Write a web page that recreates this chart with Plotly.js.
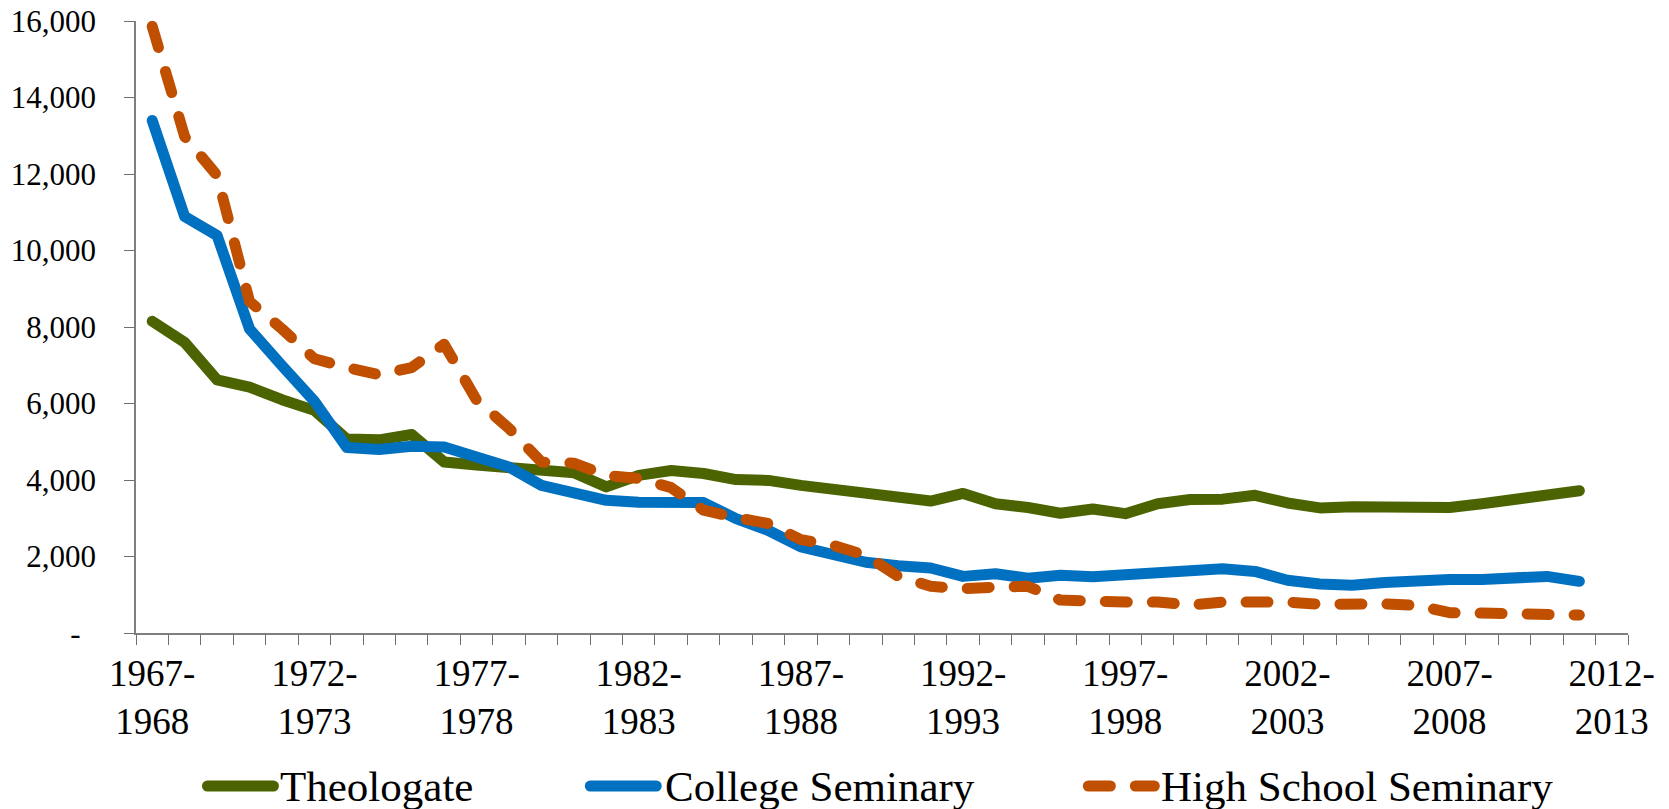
<!DOCTYPE html>
<html>
<head>
<meta charset="utf-8">
<script src="https://cdn.plot.ly/plotly-3.0.1.min.js"></script>
<style>
  html, body { margin: 0; padding: 0; background: #fff; }
  #chart { width: 1669px; height: 809px; }
  #chart svg text { font-family: 'Liberation Serif', serif !important; }
  .scatterlayer .js-line, .shapelayer path { stroke-linecap: round; stroke-linejoin: round; }
</style>
</head>
<body>
<div id="chart"></div>
<script>
const categories = [
  '1967-1968','1968-1969','1969-1970','1970-1971','1971-1972',
  '1972-1973','1973-1974','1974-1975','1975-1976','1976-1977',
  '1977-1978','1978-1979','1979-1980','1980-1981','1981-1982',
  '1982-1983','1983-1984','1984-1985','1985-1986','1986-1987',
  '1987-1988','1988-1989','1989-1990','1990-1991','1991-1992',
  '1992-1993','1993-1994','1994-1995','1995-1996','1996-1997',
  '1997-1998','1998-1999','1999-2000','2000-2001','2001-2002',
  '2002-2003','2003-2004','2004-2005','2005-2006','2006-2007',
  '2007-2008','2008-2009','2009-2010','2010-2011','2011-2012',
  '2012-2013'
];

const theologate = [
  8150, 7600, 6620, 6430, 6100, 5820, 5070, 5050, 5190, 4470,
  4390, 4300, 4210, 4190, 3820, 4120, 4250, 4170, 4010, 3990,
  3860, 3750, 3640, 3570, 3450, 3650, 3380, 3280, 3130, 3240,
  3120, 3380, 3490, 3500, 3600, 3400, 3270, 3300, 3310, 3270,
  3280, 3380, 3510, 3620, 3720, null
];

const collegeSeminary = [
  13400, 10890, 10390, 7950, 6990, 6060, 4850, 4800, 4880, 4860,
  4600, 4340, 3860, 3690, 3470, 3420, 3410, 3410, 2990, 2680,
  2250, 2030, 1850, 1760, 1700, 1480, 1550, 1430, 1510, 1470,
  1510, 1570, 1640, 1680, 1610, 1380, 1280, 1250, 1320, 1380,
  1400, 1400, 1450, 1480, 1350, null
];

const highSchoolSeminary = [
  15860, 12980, 11960, 8670, 7950, 7170, 6940, 6750, 6940, 7550,
  6090, 5350, 4470, 4440, 4120, 4040, 3800, 3210, 3020, 2860,
  2440, 2290, 2030, 1480, 1220, 1160, 1200, 1220, 860, 810,
  810, 810, 730, 810, 830, 810, 750, 770, 760, 720,
  530, 520, 510, 520, 470, null
];

const xTickLabels = [
  '1967-<br>1968', '1972-<br>1973', '1977-<br>1978', '1982-<br>1983', '1987-<br>1988',
  '1992-<br>1993', '1997-<br>1998', '2002-<br>2003', '2007-<br>2008', '2012-<br>2013'
];

const yTickValues = [0, 2000, 4000, 6000, 8000, 10000, 12000, 14000, 16000];
const yTickLabels = ['-\u00A0\u00A0', '2,000', '4,000', '6,000', '8,000', '10,000', '12,000', '14,000', '16,000'];

const seriesNames = ['Theologate', 'College Seminary', 'High School Seminary'];
const seriesColors = ['#4B6300', '#0070C0', '#C04F00'];
const seriesDash = ['solid', 'solid', '22px,25px'];

const FONT = 'Liberation Serif';
const LW = 11;

const seriesValues = [theologate, collegeSeminary, highSchoolSeminary];
const traces = seriesValues.map((vals, k) => ({
  type: 'scatter',
  mode: 'lines',
  x: categories,
  y: vals,
  name: seriesNames[k],
  line: { color: seriesColors[k], width: LW, dash: seriesDash[k] },
  connectgaps: false,
  hoverinfo: 'x+y+name'
}));

const ticktext = categories.map((c, i) => (i % 5 === 0 ? xTickLabels[i / 5] : ''));

// custom legend (longer line symbols than plotly's built-in legend)
const legendLineX = [[0.0479, 0.0921], [0.3045, 0.3487], [0.6383, 0.6825]];
const legendTextX = [0.0955, 0.3535, 0.6855];
const legendY = -0.250;

const shapes = seriesNames.map((n, k) => ({
  type: 'line', xref: 'paper', yref: 'paper',
  x0: legendLineX[k][0], x1: legendLineX[k][1], y0: legendY, y1: legendY,
  line: { color: seriesColors[k], width: LW, dash: seriesDash[k] }
}));

const annotations = seriesNames.map((n, k) => ({
  xref: 'paper', yref: 'paper', x: legendTextX[k], y: legendY,
  xanchor: 'left', yanchor: 'middle', showarrow: false,
  text: n, font: { family: FONT, size: 43, color: '#000' }
}));

const layout = {
  width: 1669,
  height: 809,
  margin: { l: 136, r: 41, t: 21, b: 176, pad: 0 },
  paper_bgcolor: '#ffffff',
  plot_bgcolor: '#ffffff',
  font: { family: FONT, color: '#000' },
  showlegend: false,
  xaxis: {
    type: 'category',
    range: [-0.5, 45.5],
    tickmode: 'array',
    tickvals: categories,
    ticktext: ticktext,
    tickson: 'boundaries',
    ticks: 'outside',
    ticklen: 10,
    tickwidth: 1,
    tickcolor: '#6f6f6f',
    showline: true,
    linecolor: '#7f7f7f',
    linewidth: 1.5,
    showgrid: false,
    zeroline: false,
    tickangle: 0,
    ticklabelstandoff: 7,
    tickfont: { family: FONT, size: 37, color: '#000' },
    automargin: false,
    fixedrange: true
  },
  yaxis: {
    range: [0, 16000],
    tickmode: 'array',
    tickvals: yTickValues,
    ticktext: yTickLabels,
    ticks: 'outside',
    ticklen: 10,
    tickwidth: 1,
    tickcolor: '#6f6f6f',
    showline: true,
    linecolor: '#7f7f7f',
    linewidth: 1.5,
    showgrid: false,
    zeroline: false,
    ticklabelstandoff: 22,
    tickfont: { family: FONT, size: 31, color: '#000' },
    automargin: false,
    fixedrange: true
  },
  shapes: shapes,
  annotations: annotations
};

Plotly.newPlot('chart', traces, layout, { displayModeBar: false });
</script>
</body>
</html>
